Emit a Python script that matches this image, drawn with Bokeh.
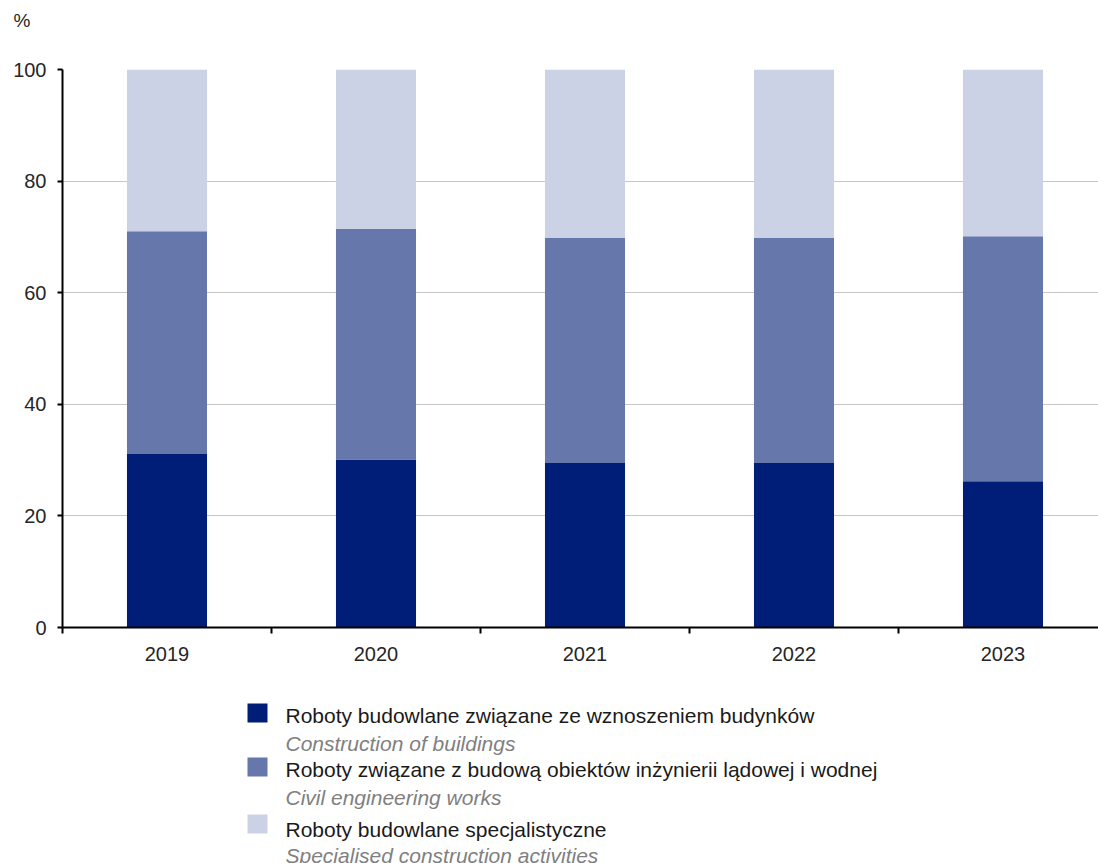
from bokeh.plotting import figure
from bokeh.layouts import column
from bokeh.models import ColumnDataSource, FixedTicker, Range1d
from bokeh.core.properties import value
from bokeh.embed import file_html
from bokeh.resources import INLINE

# ---- data ----
years = ["2019", "2020", "2021", "2022", "2023"]
buildings = [31.1, 30.1, 29.5, 29.5, 26.2]
civil = [39.9, 41.3, 40.3, 40.3, 43.9]
specialised = [29.0, 28.6, 30.2, 30.2, 29.9]
series_keys = ["buildings", "civil", "specialised"]
series_pl = [
    "Roboty budowlane związane ze wznoszeniem budynków",
    "Roboty związane z budową obiektów inżynierii lądowej i wodnej",
    "Roboty budowlane specjalistyczne",
]
series_en = [
    "Construction of buildings",
    "Civil engineering works",
    "Specialised construction activities",
]
y_ticks = [0, 20, 40, 60, 80, 100]
y_unit = "%"

# ---- styles ----
colors = ["#001e78", "#6677ab", "#ccd2e5"]
FONT = "Liberation Sans"
W = 1098
LEFT = 62
TOP_H = 40
MAIN_H = 650
LEG_H = 173

xs = list(range(1, len(years) + 1))
src = ColumnDataSource(dict(x=xs, buildings=buildings, civil=civil, specialised=specialised))

# ---- top strip: unit label "%" as a y-axis tick label ----
top = figure(width=W, height=TOP_H, output_backend="svg", toolbar_location=None,
             x_range=Range1d(0, 1), y_range=Range1d(0, 1), x_axis_location=None,
             min_border_left=LEFT, min_border_right=0, min_border_top=0, min_border_bottom=0,
             outline_line_color=None, background_fill_color="white", border_fill_color="white")
top.grid.visible = False
top.yaxis.ticker = FixedTicker(ticks=[0.5], minor_ticks=[])
top.yaxis.major_label_overrides = {0.5: y_unit}
top.yaxis.axis_line_color = None
top.yaxis.major_tick_line_color = None
top.yaxis.major_label_standoff = 26
top.yaxis.major_label_text_font = FONT
top.yaxis.major_label_text_font_size = "19px"
top.yaxis.major_label_text_color = "#262626"

# ---- main chart ----
p = figure(width=W, height=MAIN_H, output_backend="svg", toolbar_location=None,
           x_range=Range1d(0.5, 5.457), y_range=Range1d(0, 100),
           min_border_left=LEFT, min_border_right=0, min_border_top=29, min_border_bottom=63,
           outline_line_color=None, background_fill_color="white", border_fill_color="white")

p.vbar_stack(series_keys, x="x", width=0.383, source=src, color=colors, line_color=None)

p.xaxis.ticker = FixedTicker(ticks=xs, minor_ticks=[x - 0.5 for x in xs])
p.xaxis.major_label_overrides = {x: y for x, y in zip(xs, years)}
p.xaxis.major_tick_out = 0
p.xaxis.major_tick_in = 0
p.xaxis.minor_tick_out = 6
p.xaxis.minor_tick_in = 0
p.xaxis.minor_tick_line_width = 2
p.xaxis.minor_tick_line_color = "black"
p.xaxis.major_label_standoff = 13

p.yaxis.ticker = FixedTicker(ticks=y_ticks, minor_ticks=[])
p.yaxis.major_tick_out = 5
p.yaxis.major_tick_in = 0
p.yaxis.major_tick_line_width = 2
p.yaxis.major_label_standoff = 11

for ax in (p.xaxis, p.yaxis):
    ax.axis_line_color = "black"
    ax.axis_line_width = 2
    ax.major_tick_line_color = "black"
    ax.major_label_text_font = FONT
    ax.major_label_text_font_size = "20px"
    ax.major_label_text_color = "#262626"

p.xgrid.visible = False
p.ygrid.ticker = FixedTicker(ticks=y_ticks[1:])
p.ygrid.grid_line_color = "#c6c6c6"
p.ygrid.grid_line_width = 1

# ---- legend strip (pixel coordinates, x = page pixels, y downward) ----
lg = figure(width=W, height=LEG_H, output_backend="svg", toolbar_location=None,
            x_range=Range1d(LEFT, W), y_range=Range1d(LEG_H, 0),
            x_axis_location=None, y_axis_location=None,
            min_border_left=LEFT, min_border_right=0, min_border_top=0, min_border_bottom=0,
            outline_line_color=None, background_fill_color="white", border_fill_color="white")
lg.grid.visible = False

sq_top = [13, 67, 124]
main_base = [25, 79, 139]
en_base = [53, 107, 165]
lg.quad(left=[247] * 3, right=[267] * 3, top=sq_top, bottom=[t + 19 for t in sq_top],
        fill_color=colors, line_color=None)
lg.text(x=[285] * 3, y=main_base, text=series_pl, text_font=value(FONT),
        text_font_size="21px", text_color="#1a1a1a", text_baseline="alphabetic")
lg.text(x=[285] * 3, y=en_base, text=series_en, text_font=value(FONT),
        text_font_size="21px", text_font_style="italic", text_color="#808080",
        text_baseline="alphabetic")

layout = column(top, p, lg, spacing=0)
open("out.html", "w").write(file_html(layout, INLINE))
